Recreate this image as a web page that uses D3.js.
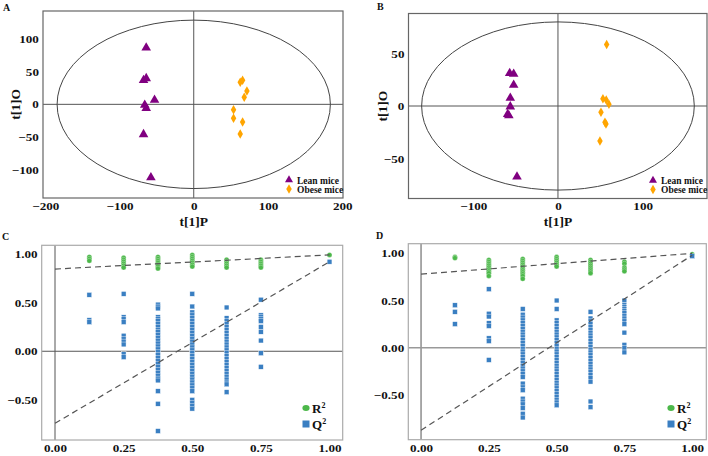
<!DOCTYPE html>
<html>
<head>
<meta charset="utf-8">
<script src="https://cdn.jsdelivr.net/npm/d3@7"></script>
<style>
  html, body { margin: 0; padding: 0; background: #fff; }
  svg text { font-family: "Times New Roman", "Liberation Serif", serif; font-weight: bold; }
</style>
</head>
<body>
<svg id="chart" width="708" height="456"></svg>
<script>
// ---------------- DATA ----------------
// Panel A: OPLS-DA scores
const leanA_t1P  = [-64, -64, -67.6, -52.8, -66, -64, -67.6, -57.7];
const leanA_t1O  = [86.7, 39.8, 37, 6.6, -1, -6, -46, -112];
const obeseA_t1P = [62.6, 65.8, 71.6, 68, 53.6, 53.6, 65.8, 62.6];
const obeseA_t1O = [33.7, 36.8, 20.4, 10.7, -8.3, -21.4, -27, -45.5];
const ellipseA   = [184, 129];           // Hotelling T2 radii (t1P, t1O)
const ticksA_x   = [-200, -100, 0, 100, 200];
const ticksA_y   = [-100, -50, 0, 50, 100];

// Panel B: OPLS-DA scores
const leanB_t1P  = [-57, -52.3, -52.3, -56.3, -56.3, -59.4, -58, -48.4];
const leanB_t1O  = [31.1, 30.5, 20, 7.6, -0.6, -7.9, -9, -67.3];
const obeseB_t1P = [57.5, 53.1, 57, 60.2, 50.8, 55.5, 56.7, 49.6];
const obeseB_t1O = [58.4, 7, 5.7, 1.6, -6, -15.5, -17.1, -33.3];
const ellipseB   = [161, 80];
const ticksB_x   = [-100, 0, 100];
const ticksB_y   = [-50, 0, 50];

const groupNames = ["Lean mice", "Obese mice"];

// Panels C and D: permutation tests
const permX = [0.125, 0.25, 0.375, 0.5, 0.625, 0.75, 1.0];

const C_R2 = [
  [0.97, 0.95, 0.93],
  [0.96, 0.94, 0.92, 0.90, 0.88, 0.86],
  [0.97, 0.95, 0.93, 0.91, 0.89, 0.87, 0.85],
  [0.99, 0.97, 0.95, 0.93, 0.91, 0.89, 0.87],
  [0.94, 0.92, 0.90, 0.88, 0.86],
  [0.94, 0.92, 0.90, 0.88, 0.86],
  [0.99]
];
const C_Q2 = [
  [0.58, 0.32, 0.30],
  [0.59, 0.35, 0.33, 0.30, 0.16, 0.13, 0.10, 0.07, -0.03, -0.06],
  [0.48, 0.46, 0.44, 0.35, 0.33, 0.31, 0.28, 0.25, 0.22, 0.20, 0.17, 0.14, 0.11, 0.08, 0.05, 0.02,
   -0.01, -0.04, -0.07, -0.10, -0.13, -0.16, -0.19, -0.22, -0.25, -0.28, -0.30, -0.41, -0.54, -0.82],
  [0.59, 0.46, 0.40, 0.37, 0.34, 0.31, 0.28, 0.25, 0.22, 0.19, 0.16, 0.13, 0.10, 0.07, 0.04, 0.01,
   -0.02, -0.05, -0.08, -0.11, -0.14, -0.17, -0.20, -0.23, -0.26, -0.29, -0.32, -0.35, -0.38, -0.41,
   -0.50, -0.53, -0.56, -0.59],
  [0.45, 0.34, 0.31, 0.28, 0.25, 0.22, 0.19, 0.16, 0.13, 0.10, 0.07, 0.04, 0.01, -0.02, -0.05, -0.08,
   -0.11, -0.14, -0.17, -0.20, -0.23, -0.26, -0.29, -0.32, -0.34, -0.42],
  [0.53, 0.37, 0.35, 0.33, 0.31, 0.25, 0.20, 0.11, -0.02, -0.16],
  [0.92]
];
const C_R2_line = [0.845, 0.99];   // intercept at x=0, value at x=1
const C_Q2_line = [-0.74, 0.92];

const D_R2 = [
  [0.96, 0.95],
  [0.93, 0.91, 0.89, 0.87, 0.85, 0.83, 0.81, 0.79, 0.76],
  [0.94, 0.92, 0.90, 0.88, 0.86, 0.84, 0.82, 0.80, 0.78, 0.76, 0.73],
  [0.96, 0.94, 0.92, 0.90, 0.88, 0.86],
  [0.93, 0.91, 0.89, 0.87, 0.85, 0.83, 0.81, 0.79],
  [0.91, 0.89, 0.85, 0.83, 0.81],
  [0.99]
];
const D_Q2 = [
  [0.45, 0.38, 0.25],
  [0.62, 0.36, 0.33, 0.26, 0.23, 0.10, 0.07, -0.13],
  [0.41, 0.35, 0.32, 0.29, 0.26, 0.23, 0.20, 0.17, 0.14, 0.11, 0.08, 0.05, 0.02, -0.01, -0.04, -0.07,
   -0.10, -0.13, -0.16, -0.19, -0.22, -0.25, -0.28, -0.31, -0.38, -0.42, -0.45, -0.54, -0.57, -0.60,
   -0.64, -0.70, -0.74],
  [0.50, 0.41, 0.29, 0.26, 0.23, 0.20, 0.17, 0.14, 0.11, 0.08, 0.05, 0.02, -0.01, -0.04, -0.07, -0.10,
   -0.13, -0.16, -0.19, -0.22, -0.25, -0.28, -0.31, -0.34, -0.37, -0.40, -0.43, -0.46, -0.49, -0.52,
   -0.55, -0.58, -0.61],
  [0.38, 0.31, 0.28, 0.25, 0.22, 0.19, 0.16, 0.13, 0.10, 0.07, 0.04, 0.01, -0.02, -0.05, -0.08, -0.11,
   -0.14, -0.17, -0.20, -0.23, -0.26, -0.29, -0.32, -0.36, -0.57, -0.63],
  [0.50, 0.45, 0.43, 0.41, 0.39, 0.37, 0.34, 0.31, 0.28, 0.25, 0.16, 0.03, 0.00, -0.05],
  [0.97]
];
const D_R2_line = [0.78, 1.0];
const D_Q2_line = [-0.875, 0.98];

const permTicksX = [0, 0.25, 0.5, 0.75, 1.0];
const permTicksY = [-0.5, 0, 0.5, 1.0];

// ---------------- STYLE ----------------
const PURPLE = "#800080", ORANGE = "#ffa500", GREEN = "#4cb84a", BLUE = "#3a7fc2";
const svg = d3.select("#chart");

function frameAxes(g, x, y, xt, yt, fmt, frameColor) {
  const [x0, x1] = x.range(), [y0, y1] = y.range();
  g.append("rect").attr("x", x0).attr("y", y1).attr("width", x1 - x0).attr("height", y0 - y1)
    .attr("fill", "none").attr("stroke", frameColor).attr("stroke-width", 1.2);
  const ax = g.append("g").attr("transform", `translate(0,${y0})`)
    .call(d3.axisBottom(x).tickValues(xt).tickSize(0).tickPadding(4).tickFormat(fmt));
  const ay = g.append("g").attr("transform", `translate(${x0},0)`)
    .call(d3.axisLeft(y).tickValues(yt).tickSize(0).tickPadding(3.5).tickFormat(fmt));
  [ax, ay].forEach(a => {
    a.select(".domain").remove();
    a.selectAll("text").attr("font-size", 11.2).attr("fill", "#111")
      .attr("transform", "scale(1.17,1)")
      .style("font-family", '"Times New Roman","Liberation Serif",serif').style("font-weight", "bold");
  });
}

function scorePanel(cfg) {
  const g = svg.append("g");
  const x = d3.scaleLinear().domain(cfg.xd).range(cfg.xr);
  const y = d3.scaleLinear().domain(cfg.yd).range(cfg.yr);
  // zero lines
  g.append("line").attr("x1", x(0)).attr("x2", x(0)).attr("y1", cfg.yr[0]).attr("y2", cfg.yr[1])
    .attr("stroke", "#555").attr("stroke-width", 1);
  g.append("line").attr("x1", cfg.xr[0]).attr("x2", cfg.xr[1]).attr("y1", y(0)).attr("y2", y(0))
    .attr("stroke", "#555").attr("stroke-width", 1);
  // ellipse
  g.append("ellipse").attr("cx", x(0)).attr("cy", y(0))
    .attr("rx", x(cfg.ell[0]) - x(0)).attr("ry", y(0) - y(cfg.ell[1]))
    .attr("fill", "none").attr("stroke", "#444").attr("stroke-width", 1);
  frameAxes(g, x, y, cfg.xt, cfg.yt, d3.format("d"), "#666");
  const tri = d3.symbol().type(d3.symbolTriangle).size(40);
  const dia = d3.symbol().type(d3.symbolDiamond).size(26);
  g.selectAll(".lean").data(d3.zip(cfg.leanX, cfg.leanY)).join("path")
    .attr("d", tri).attr("transform", d => `translate(${x(d[0])},${y(d[1])})`).attr("fill", PURPLE);
  g.selectAll(".obese").data(d3.zip(cfg.obX, cfg.obY)).join("path")
    .attr("d", dia).attr("transform", d => `translate(${x(d[0])},${y(d[1])})`).attr("fill", ORANGE);
  // legend
  const lg = g.append("g").attr("transform", `translate(${cfg.leg[0]},${cfg.leg[1]})`);
  lg.append("path").attr("d", d3.symbol().type(d3.symbolTriangle).size(28)).attr("fill", PURPLE);
  lg.append("path").attr("d", dia).attr("transform", "translate(0,9)").attr("fill", ORANGE);
  lg.selectAll("text").data(groupNames).join("text").attr("x", 8).attr("y", (d, i) => i * 9 + 3.5)
    .attr("font-size", 9.5).attr("fill", "#111").text(d => d);
  // axis titles
  g.append("text").attr("x", x(0)).attr("y", 225.5).attr("text-anchor", "middle")
    .attr("font-size", 13.5).attr("fill", "#111").text("t[1]P");
  g.append("text").attr("transform", `translate(${cfg.ytx},${y(0)}) rotate(-90)`).attr("text-anchor", "middle")
    .attr("font-size", 13.5).attr("fill", "#111").text("t[1]O");
  g.append("text").attr("x", cfg.lab[0]).attr("y", cfg.lab[1]).attr("font-size", 10).attr("fill", "#111").text(cfg.label);
}

function permPanel(cfg) {
  const g = svg.append("g");
  const x = d3.scaleLinear().domain(cfg.xd).range(cfg.xr);
  const y = d3.scaleLinear().domain(cfg.yd).range(cfg.yr);
  g.append("line").attr("x1", x(0)).attr("x2", x(0)).attr("y1", cfg.yr[0]).attr("y2", cfg.yr[1])
    .attr("stroke", "#555").attr("stroke-width", 1);
  g.append("line").attr("x1", cfg.xr[0]).attr("x2", cfg.xr[1]).attr("y1", y(0)).attr("y2", y(0))
    .attr("stroke", cfg.zeroColor).attr("stroke-width", cfg.zeroW);
  frameAxes(g, x, y, permTicksX, permTicksY, d3.format(".2f"), "#aaa");
  const r2pts = [], q2pts = [];
  permX.forEach((px, i) => {
    cfg.r2[i].forEach(v => r2pts.push([px, v]));
    cfg.q2[i].forEach(v => q2pts.push([px, v]));
  });
  g.selectAll(".r2").data(r2pts).join("circle")
    .attr("cx", d => x(d[0])).attr("cy", d => y(d[1])).attr("r", 2.5)
    .attr("fill", GREEN).attr("stroke", "#fff").attr("stroke-width", 0.3);
  g.selectAll(".q2").data(q2pts).join("rect")
    .attr("x", d => x(d[0]) - 2.4).attr("y", d => y(d[1]) - 2.4).attr("width", 4.8).attr("height", 4.8)
    .attr("fill", BLUE).attr("stroke", "#fff").attr("stroke-width", 0.4);
  [cfg.r2line, cfg.q2line].forEach(l => {
    g.append("line").attr("x1", x(0)).attr("y1", y(l[0])).attr("x2", x(1)).attr("y2", y(l[1]))
      .attr("stroke", "#555").attr("stroke-width", 1.2).attr("stroke-dasharray", "6,4");
  });
  // legend
  const lg = g.append("g").attr("transform", `translate(${cfg.leg[0]},${cfg.leg[1]})`);
  lg.append("ellipse").attr("rx", 3.6).attr("ry", 3).attr("fill", GREEN);
  lg.append("rect").attr("x", -3.5).attr("y", 12.5).attr("width", 7).attr("height", 7).attr("fill", BLUE);
  const labs = [["R", "2"], ["Q", "2"]];
  labs.forEach((t, i) => {
    const tx = lg.append("text").attr("x", 6).attr("y", i * 16 + 5).attr("font-size", 13).attr("fill", "#111");
    tx.append("tspan").text(t[0]);
    tx.append("tspan").attr("font-size", 8).attr("dy", -5).text(t[1]);
  });
  g.append("text").attr("x", cfg.lab[0]).attr("y", cfg.lab[1]).attr("font-size", 10).attr("fill", "#111").text(cfg.label);
}

scorePanel({
  xd: [-203, 201], xr: [43, 343], yd: [-143.5, 143], yr: [198, 11],
  xt: ticksA_x, yt: ticksA_y, ell: ellipseA,
  leanX: leanA_t1P, leanY: leanA_t1O, obX: obeseA_t1P, obY: obeseA_t1O,
  leg: [289, 180], ytx: 20, lab: [3, 11], label: "A"
});
scorePanel({
  xd: [-176.5, 176], xr: [408.5, 707], yd: [-88, 88], yr: [198.5, 13.5],
  xt: ticksB_x, yt: ticksB_y, ell: ellipseB,
  leanX: leanB_t1P, leanY: leanB_t1O, obX: obeseB_t1P, obY: obeseB_t1O,
  leg: [653, 180.5], ytx: 387, lab: [377, 10], label: "B"
});
permPanel({
  xd: [-0.0485, 1.048], xr: [41.7, 342.7], yd: [-0.912, 1.089], yr: [440, 245.3],
  r2: C_R2, q2: C_Q2, r2line: C_R2_line, q2line: C_Q2_line,
  zeroColor: "#555", zeroW: 1, leg: [306, 408], lab: [2, 240], label: "C"
});
permPanel({
  xd: [-0.047, 1.052], xr: [408.3, 706.3], yd: [-0.975, 1.102], yr: [439.7, 243.7],
  r2: D_R2, q2: D_Q2, r2line: D_R2_line, q2line: D_Q2_line,
  zeroColor: "#999", zeroW: 1.6, leg: [671, 408], lab: [376, 239], label: "D"
});
</script>
</body>
</html>
